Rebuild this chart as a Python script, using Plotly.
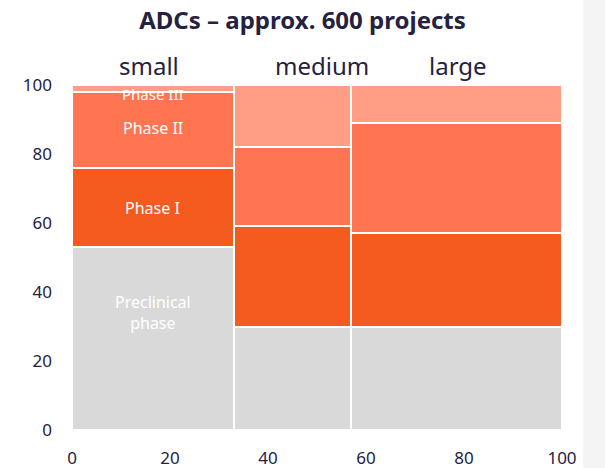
import plotly.graph_objects as go
import numpy as np

# ---- data ----
segments = ["small", "medium", "large"]
seg_widths = [33, 24, 43]          # share of projects (%)
phases = ["Preclinical phase", "Phase I", "Phase II", "Phase III"]
phase_labels = ["Preclinical<br>phase", "Phase I", "Phase II", "Phase III"]
preclinical = [53, 30, 30]
phase1 = [23, 29, 27]
phase2 = [22, 23, 32]
phase3 = [2, 18, 11]
x_ticks = [0, 20, 40, 60, 80, 100]
y_ticks = [0, 20, 40, 60, 80, 100]

# ---- styles ----
colors = ["#D9D9D9", "#F55A1F", "#FF7451", "#FF9E84"]
text_color = "#25223F"
label_x = [15.7, 51, 78.8]        # layout positions of the segment labels
label_yshift = [26, -1, 2, -6]    # pixel nudges for in-bar labels

series = [preclinical, phase1, phase2, phase3]
starts = np.concatenate([[0], np.cumsum(seg_widths)[:-1]])

fig = go.Figure()
for name, vals, col in zip(phases, series, colors):
    fig.add_trace(go.Bar(
        x=starts, y=vals, width=seg_widths, offset=0, name=name,
        marker=dict(color=col, line=dict(color="white", width=2)),
        hoverinfo="name+y",
    ))

# labels inside the first segment column
cum = np.cumsum(np.array(series), axis=0)
bottoms = cum - np.array(series)
for i, lab in enumerate(phase_labels):
    mid = (bottoms[i][0] + cum[i][0]) / 2
    fig.add_annotation(
        x=starts[0] + seg_widths[0] / 2, y=mid, text=lab, showarrow=False,
        font=dict(color="white", size=16 if i < 3 else 15, family="Noto Sans"),
        yshift=label_yshift[i],
    )

for s, lx in zip(segments, label_x):
    fig.add_annotation(
        x=lx, y=1, xref="x", yref="paper", yanchor="bottom", text=s,
        showarrow=False, font=dict(size=24, color=text_color, family="Noto Sans"),
        yshift=1,
    )

# light strip on the right edge
fig.add_shape(type="rect", xref="paper", yref="paper",
              x0=(583 - 72) / 490, x1=1.2, y0=-1, y1=2,
              fillcolor="#F4F4F4", line=dict(width=0), layer="below")

fig.update_layout(
    width=605, height=468,
    margin=dict(l=72, r=43, t=85, b=38, autoexpand=False),
    paper_bgcolor="white", plot_bgcolor="white",
    barmode="stack", showlegend=False, bargap=0,
    title=dict(text="<b>ADCs – approx. 600 projects</b>", x=0.5, xref="container",
               xanchor="center", y=0.955, yanchor="middle",
               font=dict(size=24, color=text_color, family="Noto Sans")),
    font=dict(family="Noto Sans", color=text_color, size=17),
    xaxis=dict(range=[0, 100], tickvals=x_ticks, showgrid=False, zeroline=False,
               showline=False, ticks="", ticklabelstandoff=16, automargin=False),
    yaxis=dict(range=[0, 100], tickvals=y_ticks, showgrid=False, zeroline=False,
               showline=False, ticks="", ticklabelstandoff=19, automargin=False),
)

fig.write_html("out.html")
